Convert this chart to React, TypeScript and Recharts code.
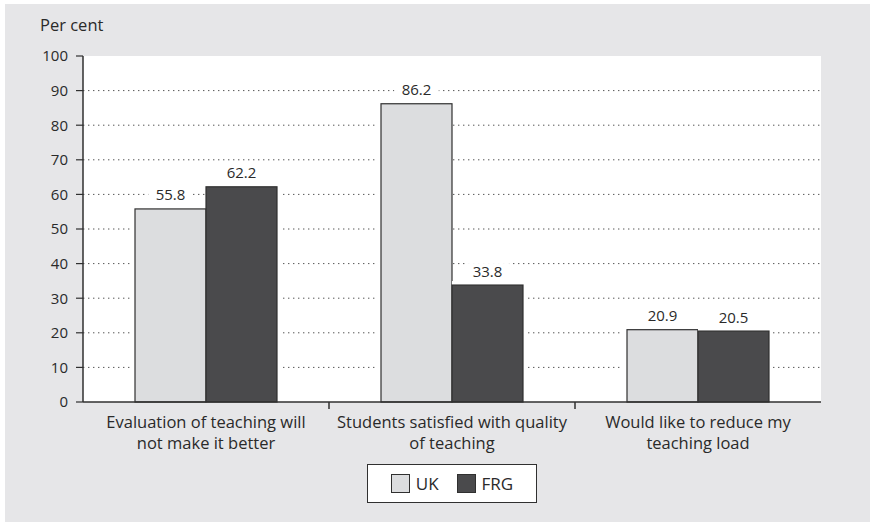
import React from "react";
import {
  BarChart,
  Bar,
  XAxis,
  YAxis,
  CartesianGrid,
  LabelList,
} from "recharts";

// Survey categories (full text) and the way each is broken over two lines
const categories = [
  "Evaluation of teaching will not make it better",
  "Students satisfied with quality of teaching",
  "Would like to reduce my teaching load",
];
const categoryLines = [
  ["Evaluation of teaching will", "not make it better"],
  ["Students satisfied with quality", "of teaching"],
  ["Would like to reduce my", "teaching load"],
];

// Per cent of respondents
const ukValues = [55.8, 86.2, 20.9];
const frgValues = [62.2, 33.8, 20.5];

const yTicks = [0, 10, 20, 30, 40, 50, 60, 70, 80, 90, 100];

const seriesNames = ["UK", "FRG"];
const seriesColors = ["#dcdddf", "#4a4a4c"];

const data = categories.map((name, i) => ({
  name,
  lines: categoryLines[i],
  UK: ukValues[i],
  FRG: frgValues[i],
}));

const FONT = "'Open Sans', Lato, sans-serif";
const TEXT = "#2a2a2a";
const LINE = "#303030";

// Bar with a white halo so the dotted grid stops just short of it
const HaloBar = (props: any) => {
  const { x, y, width, height, fill, side } = props;
  if (width == null || height == null || height <= 0) return null;
  const pad = 4;
  const hx = side === "left" ? x - pad : x;
  return (
    <g>
      <rect x={hx} y={y - pad} width={width + pad} height={height + pad} fill="#fff" />
      <rect x={x} y={y} width={width} height={height} fill={fill} stroke={LINE} strokeWidth={1.2} />
    </g>
  );
};

// Value above a bar, on a white patch that interrupts the grid
const ValueLabel = (props: any) => {
  const { x, y, width, value } = props;
  const cx = x + width / 2;
  const txt = String(value);
  const w = txt.length * 8.6 + 10;
  return (
    <g>
      <rect x={cx - w / 2} y={y - 22} width={w} height={18} fill="#fff" />
      <text
        x={cx}
        y={y - 8.5}
        textAnchor="middle"
        fontFamily={FONT}
        fontSize={15}
        fill={TEXT}
      >
        {txt}
      </text>
    </g>
  );
};

// Two-line category label plus a divider tick on the band's right edge
const CategoryTick = (props: any) => {
  const { x, y, payload, index } = props;
  const lines: string[] = data[index]?.lines ?? [String(payload.value)];
  const half = payload.offset ?? 0;
  const isLast = index === data.length - 1;
  return (
    <g>
      {!isLast && (
        <line x1={x + half} y1={y} x2={x + half} y2={y + 7} stroke={LINE} strokeWidth={1.5} />
      )}
      {lines.map((ln, i) => (
        <text
          key={i}
          x={x}
          y={y + 26 + i * 21}
          textAnchor="middle"
          fontFamily={FONT}
          fontSize={16.5}
          fill={TEXT}
        >
          {ln}
        </text>
      ))}
    </g>
  );
};

const Legend = () => (
  <div
    style={{
      position: "absolute",
      left: 367,
      top: 464,
      width: 168,
      height: 37,
      border: `1px solid ${LINE}`,
      background: "#fff",
      display: "flex",
      alignItems: "center",
      justifyContent: "center",
      fontFamily: FONT,
      fontSize: 17,
      color: TEXT,
    }}
  >
    {seriesNames.map((s, i) => (
      <div
        key={s}
        style={{ display: "flex", alignItems: "center", marginLeft: i ? 18 : 0 }}
      >
        <div
          style={{
            width: 17,
            height: 17,
            background: seriesColors[i],
            border: `1px solid ${LINE}`,
            marginRight: 6,
          }}
        />
        <span>{s}</span>
      </div>
    ))}
  </div>
);

export default function App() {
  return (
    <div style={{ position: "absolute", left: 0, top: 0, width: 870, height: 522 }}>
      <div
        style={{
          position: "absolute",
          left: 5,
          top: 4,
          width: 865,
          height: 518,
          background: "#e6e6e8",
        }}
      />
      <svg
        width={200}
        height={40}
        style={{ position: "absolute", left: 0, top: 0 }}
      >
        <text x={40} y={31} fontFamily={FONT} fontSize={16.5} fill={TEXT}>
          Per cent
        </text>
      </svg>
      <div style={{ position: "absolute", left: 0, top: 0 }}>
        <BarChart
          width={870}
          height={522}
          data={data}
          margin={{ top: 56, right: 49, bottom: 70, left: 23 }}
          barCategoryGap={52}
          barGap={0}
        >
          <CartesianGrid
            vertical={false}
            fill="#fff"
            stroke="#555"
            strokeDasharray="1.4 3.6"
            horizontalValues={yTicks.slice(1, -1)}
          />
          <XAxis
            dataKey="name"
            height={50}
            tickSize={0}
            tickMargin={0}
            axisLine={{ stroke: LINE, strokeWidth: 1.5 }}
            tickLine={false}
            tick={<CategoryTick />}
            interval={0}
          />
          <XAxis
            xAxisId="top"
            dataKey="name"
            orientation="top"
            height={0}
            tick={false}
            tickLine={false}
            axisLine={{ stroke: LINE, strokeWidth: 1.5 }}
          />
          <YAxis
            width={60}
            domain={[0, 100]}
            ticks={yTicks}
            interval={0}
            tickSize={7}
            tickMargin={8}
            axisLine={{ stroke: LINE, strokeWidth: 1.5 }}
            tickLine={{ stroke: LINE, strokeWidth: 1.2 }}
            tick={{ fontFamily: FONT, fontSize: 15, fill: TEXT }}
          />
          <YAxis
            yAxisId="right"
            orientation="right"
            width={0}
            domain={[0, 100]}
            tick={false}
            tickLine={false}
            axisLine={{ stroke: LINE, strokeWidth: 1.5 }}
          />
          <Bar
            dataKey="UK"
            fill={seriesColors[0]}
            isAnimationActive={false}
            shape={(p: any) => <HaloBar {...p} side="left" />}
          >
            <LabelList dataKey="UK" content={<ValueLabel />} />
          </Bar>
          <Bar
            dataKey="FRG"
            fill={seriesColors[1]}
            isAnimationActive={false}
            shape={(p: any) => <HaloBar {...p} side="right" />}
          >
            <LabelList dataKey="FRG" content={<ValueLabel />} />
          </Bar>
        </BarChart>
      </div>
      <Legend />
    </div>
  );
}
